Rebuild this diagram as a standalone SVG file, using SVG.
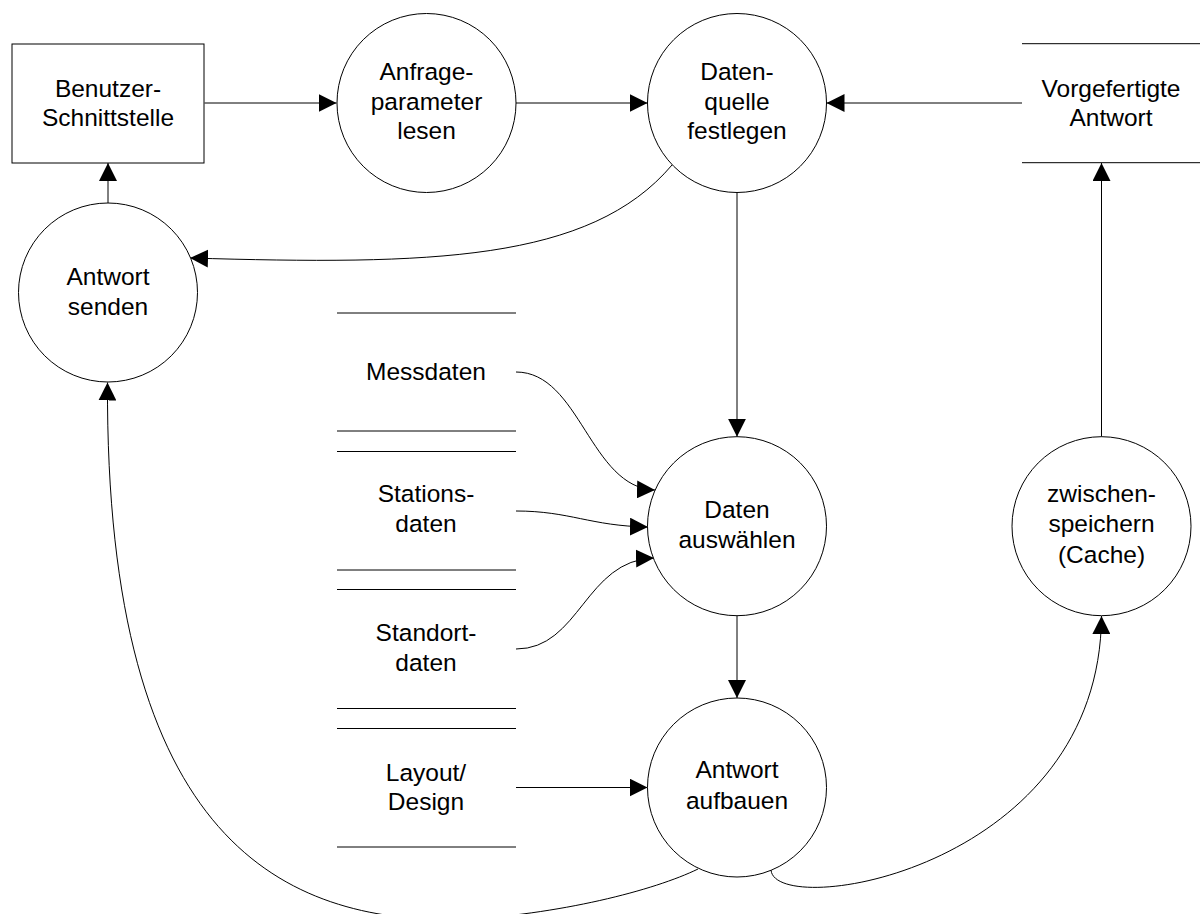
<svg xmlns="http://www.w3.org/2000/svg" width="1200" height="914" viewBox="0 0 1200 914">
<defs>
<style>
.n{fill:#fff;stroke:#000;stroke-width:1}
.s{stroke:#000;stroke-width:1;fill:none}
.t{font-family:"Liberation Sans",Arial,sans-serif;font-size:24.5px;fill:#000;text-anchor:middle}
.c{stroke:#000;stroke-width:1;fill:none;marker-end:url(#ah)}
</style>
<marker id="ah" markerUnits="userSpaceOnUse" markerWidth="18" markerHeight="18" refX="18" refY="9" orient="auto">
<path d="M0,0 L18,9 L0,18 z" fill="#000"/>
</marker>
</defs>
<rect width="1200" height="914" fill="#fff"/>

<g id="connectors">
<line class="c" x1="204.5" y1="103" x2="336.5" y2="103"/>
<line class="c" x1="516" y1="103" x2="647.5" y2="103"/>
<line class="c" x1="1022" y1="103" x2="826.5" y2="103"/>
<line class="c" x1="108" y1="203" x2="108" y2="163"/>
<line class="c" x1="737" y1="192.5" x2="737" y2="436.7"/>
<line class="c" x1="737" y1="615.7" x2="737" y2="698"/>
<line class="c" x1="1101.5" y1="436.7" x2="1101.5" y2="163"/>
<path class="c" d="M672,165 C590,262 430,265 190,258"/>
<path class="c" d="M516,372 C580,372 590,488 655,490"/>
<path class="c" d="M516,511 C570,511 590,526 648,527"/>
<path class="c" d="M516,649 C580,649 585,560 654,558"/>
<line class="c" x1="516" y1="787.5" x2="647.5" y2="787.5"/>
<path class="c" d="M698,869 C655,890 560,915 455,920 C290,920 105,850 107.5,382.5"/>
<path class="c" d="M771,870 C775,920 1100,870 1101.5,616"/>
</g>

<g id="benutzer-schnittstelle">
<rect class="n" x="12" y="44" width="192" height="119"/>
<text class="t" x="108" y="96.7">Benutzer-</text>
<text class="t" x="108" y="126">Schnittstelle</text>
</g>

<g id="anfrageparameter-lesen">
<circle class="n" cx="426.5" cy="103" r="89.5"/>
<text class="t" x="426.5" y="80">Anfrage-</text>
<text class="t" x="426.5" y="109.5">parameter</text>
<text class="t" x="426.5" y="139">lesen</text>
</g>

<g id="datenquelle-festlegen">
<circle class="n" cx="737" cy="103" r="89.5"/>
<text class="t" x="737" y="80">Daten-</text>
<text class="t" x="737" y="109.5">quelle</text>
<text class="t" x="737" y="139">festlegen</text>
</g>

<g id="vorgefertigte-antwort">
<line class="s" x1="1022" y1="43.7" x2="1200" y2="43.7"/>
<line class="s" x1="1022" y1="162.7" x2="1200" y2="162.7"/>
<text class="t" x="1111" y="96.7">Vorgefertigte</text>
<text class="t" x="1111" y="126">Antwort</text>
</g>

<g id="antwort-senden">
<circle class="n" cx="108" cy="292.5" r="89.5"/>
<text class="t" x="108" y="285">Antwort</text>
<text class="t" x="108" y="315">senden</text>
</g>

<g id="messdaten">
<line class="s" x1="337" y1="313" x2="516" y2="313"/>
<line class="s" x1="337" y1="431" x2="516" y2="431"/>
<text class="t" x="426" y="380">Messdaten</text>
</g>

<g id="stationsdaten">
<line class="s" x1="337" y1="451.5" x2="516" y2="451.5"/>
<line class="s" x1="337" y1="570" x2="516" y2="570"/>
<text class="t" x="426" y="502.3">Stations-</text>
<text class="t" x="426" y="532.3">daten</text>
</g>

<g id="standortdaten">
<line class="s" x1="337" y1="589.5" x2="516" y2="589.5"/>
<line class="s" x1="337" y1="708.5" x2="516" y2="708.5"/>
<text class="t" x="426" y="640.7">Standort-</text>
<text class="t" x="426" y="670.7">daten</text>
</g>

<g id="layout-design">
<line class="s" x1="337" y1="728.5" x2="516" y2="728.5"/>
<line class="s" x1="337" y1="847" x2="516" y2="847"/>
<text class="t" x="426" y="780.5">Layout/</text>
<text class="t" x="426" y="809.5">Design</text>
</g>

<g id="daten-auswaehlen">
<circle class="n" cx="737" cy="526.2" r="89.5"/>
<text class="t" x="737" y="518">Daten</text>
<text class="t" x="737" y="548">auswählen</text>
</g>

<g id="zwischenspeichern">
<circle class="n" cx="1101.5" cy="526.2" r="89.5"/>
<text class="t" x="1101.5" y="501.7">zwischen-</text>
<text class="t" x="1101.5" y="532.2">speichern</text>
<text class="t" x="1101.5" y="562.5">(Cache)</text>
</g>

<g id="antwort-aufbauen">
<circle class="n" cx="737" cy="787.5" r="89.5"/>
<text class="t" x="737" y="778">Antwort</text>
<text class="t" x="737" y="808.5">aufbauen</text>
</g>
</svg>
